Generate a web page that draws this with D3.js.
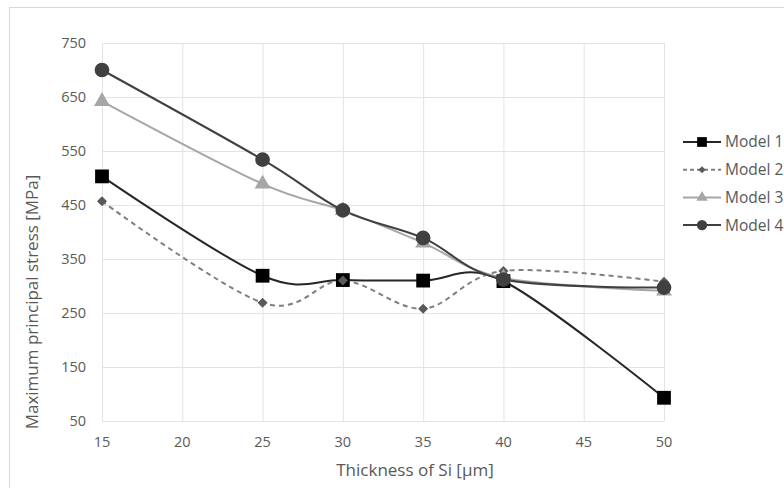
<!DOCTYPE html>
<html>
<head>
<meta charset="utf-8">
<script src="https://cdn.jsdelivr.net/npm/d3@7"></script>
<style>
  body { margin: 0; background: #fff; }
  svg { display: block; font-family: "Open Sans", "Noto Sans", sans-serif; }
</style>
</head>
<body>
<svg id="chart" width="784" height="488"></svg>
<script>
var thickness = [15, 25, 30, 35, 40, 50];
var xTicks = [15, 20, 25, 30, 35, 40, 45, 50];
var yTicks = [50, 150, 250, 350, 450, 550, 650, 750];

var model1 = [503, 319, 311, 310, 309, 93];
var model2 = [457, 269, 310, 258, 328, 308];
var model3 = [642, 489, 440, 380, 315, 291];
var model4 = [700, 534, 440, 389, 312, 297];

var seriesNames = ["Model 1", "Model 2", "Model 3", "Model 4"];

var series = [
  { name: seriesNames[0], values: model1, color: "#262626", markColor: "#000", dash: null, shape: d3.symbolSquare, size: 190, rot: 0 },
  { name: seriesNames[1], values: model2, color: "#7f7f7f", markColor: "#595959", dash: "5,4", shape: d3.symbolSquare, size: 50, rot: 45 },
  { name: seriesNames[2], values: model3, color: "#a6a6a6", markColor: "#a6a6a6", dash: null, shape: d3.symbolTriangle, size: 110, rot: 0 },
  { name: seriesNames[3], values: model4, color: "#404040", markColor: "#404040", dash: null, shape: d3.symbolCircle, size: 170, rot: 0 }
];

var svg = d3.select("#chart");

// outer chart frame (runs off the right and bottom edge)
svg.append("rect")
  .attr("x", 9.5).attr("y", 7.5)
  .attr("width", 800).attr("height", 500)
  .attr("fill", "#fff")
  .attr("stroke", "#d9d9d9");

var plotLeft = 102, plotRight = 664, plotTop = 43, plotBottom = 421;

var x = d3.scaleLinear().domain([15, 50]).range([plotLeft, plotRight]);
var y = d3.scaleLinear().domain([50, 750]).range([plotBottom, plotTop]);

// grid
svg.append("g")
  .selectAll("line")
  .data(yTicks)
  .enter().append("line")
  .attr("x1", plotLeft).attr("x2", plotRight)
  .attr("y1", function(d) { return y(d) + 0.5; })
  .attr("y2", function(d) { return y(d) + 0.5; })
  .attr("stroke", "#e3e3e3");

svg.append("g")
  .selectAll("line")
  .data(xTicks)
  .enter().append("line")
  .attr("y1", plotTop).attr("y2", plotBottom)
  .attr("x1", function(d) { return x(d) + 0.5; })
  .attr("x2", function(d) { return x(d) + 0.5; })
  .attr("stroke", "#e3e3e3");

// tick labels
svg.append("g")
  .selectAll("text")
  .data(yTicks)
  .enter().append("text")
  .attr("x", 86)
  .attr("y", function(d) { return y(d); })
  .attr("dy", "0.35em")
  .attr("text-anchor", "end")
  .attr("font-size", 14.5)
  .attr("fill", "#595959")
  .text(function(d) { return d; });

svg.append("g")
  .selectAll("text")
  .data(xTicks)
  .enter().append("text")
  .attr("x", function(d) { return x(d); })
  .attr("y", 442)
  .attr("dy", "0.35em")
  .attr("text-anchor", "middle")
  .attr("font-size", 14.5)
  .attr("fill", "#595959")
  .text(function(d) { return d; });

// axis titles
svg.append("text")
  .attr("x", 415)
  .attr("y", 470)
  .attr("dy", "0.35em")
  .attr("text-anchor", "middle")
  .attr("font-size", 17)
  .attr("fill", "#595959")
  .text("Thickness of Si [µm]");

svg.append("text")
  .attr("transform", "translate(32,302) rotate(-90)")
  .attr("dy", "0.35em")
  .attr("text-anchor", "middle")
  .attr("font-size", 17)
  .attr("fill", "#595959")
  .text("Maximum principal stress [MPa]");

// lines
var line = d3.line()
  .x(function(d, i) { return x(thickness[i]); })
  .y(function(d) { return y(d); })
  .curve(d3.curveCardinal.tension(0));

series.forEach(function(s) {
  svg.append("path")
    .datum(s.values)
    .attr("d", line)
    .attr("fill", "none")
    .attr("stroke", s.color)
    .attr("stroke-width", 2)
    .attr("stroke-dasharray", s.dash);
});

series.forEach(function(s) {
  svg.append("g")
    .selectAll("path")
    .data(s.values)
    .enter().append("path")
    .attr("transform", function(d, i) { return "translate(" + x(thickness[i]) + "," + y(d) + ") rotate(" + s.rot + ")"; })
    .attr("d", d3.symbol().type(s.shape).size(s.size))
    .attr("fill", s.markColor);
});

// legend
var legend = svg.append("g")
  .selectAll("g")
  .data(series)
  .enter().append("g")
  .attr("transform", function(d, i) { return "translate(683," + (142 + i * 27.7) + ")"; });

legend.append("line")
  .attr("x1", 0).attr("x2", 38)
  .attr("stroke", function(d) { return d.color; })
  .attr("stroke-width", 2)
  .attr("stroke-dasharray", function(d) { return d.dash ? "4,3" : null; });

legend.append("path")
  .attr("transform", function(d) { return "translate(19,0) rotate(" + d.rot + ")"; })
  .attr("d", function(d) { return d3.symbol().type(d.shape).size(d.size * 0.5)(); })
  .attr("fill", function(d) { return d.markColor; });

legend.append("text")
  .attr("x", 42)
  .attr("dy", "0.35em")
  .attr("font-size", 15.5)
  .attr("fill", "#595959")
  .text(function(d) { return d.name; });
</script>
</body>
</html>
